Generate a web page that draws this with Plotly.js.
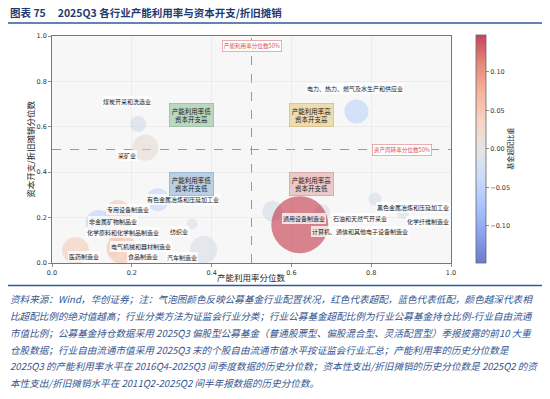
<!DOCTYPE html>
<html>
<head>
<meta charset="utf-8">
<script src="https://cdn.plot.ly/plotly-3.0.1.min.js"></script>
<style>html,body{margin:0;padding:0;background:#fff;}#chart{width:550px;height:399px;}</style>
</head>
<body>
<div id="chart"></div>
<script>
// ---- data ----
const industries = [
  "电力、热力、燃气及水生产和供应业","煤炭开采和洗选业","采矿业","有色金属冶炼和压延加工业",
  "专用设备制造业","非金属矿物制品业","化学原料和化学制品制造业","医药制造业",
  "电气机械和器材制造业","食品制造业","纺织业","汽车制造业",
  "通用设备制造业","石油和天然气开采业","黑色金属冶炼和压延加工业","化学纤维制造业",
  "计算机、通信和其他电子设备制造业"
];
const capUtilPct = [0.763,0.216,0.234,0.265,0.165,0.117,0.161,0.059,0.174,0.156,0.351,0.380,0.553,0.678,0.809,0.880,0.621];
const capexPct   = [0.667,0.612,0.508,0.279,0.220,0.176,0.147,0.055,0.064,0.046,0.172,0.059,0.228,0.226,0.282,0.220,0.169];
const overweight = [-0.040,-0.020,0.010,-0.035,0.040,-0.040,0.030,0.035,0.045,0.020,-0.005,-0.010,-0.015,-0.010,-0.010,-0.008,0.140];
const mktCapWeight = [2.13,0.95,2.50,1.95,2.50,2.50,2.10,2.70,3.30,0.25,0.45,2.70,1.60,0.83,0.62,0.53,12.0];
const xTicks = [0,0.2,0.4,0.6,0.8,1.0];
const cbTickVals = [-0.10,-0.05,0.00,0.05,0.10];
const cbTickText = ["−0.10","−0.05","0.00","0.05","0.10"];
const quadrants = [
  {text:"产能利用率低<br>资本开支高", x:0.35, y:0.65},
  {text:"产能利用率高<br>资本开支高", x:0.65, y:0.65},
  {text:"产能利用率低<br>资本开支低", x:0.35, y:0.35},
  {text:"产能利用率高<br>资本开支低", x:0.65, y:0.35}
];
const noteLines = [
  "资料来源：Wind，华创证券；注：气泡图颜色反映公募基金行业配置状况，红色代表超配，蓝色代表低配，颜色越深代表相",
  "比超配比例的绝对值越高；行业分类方法为证监会行业分类；行业公募基金超配比例为行业公募基金持仓比例-行业自由流通",
  "市值比例；公募基金持仓数据采用 2025Q3 偏股型公募基金（普通股票型、偏股混合型、灵活配置型）季报披露的前10 大重",
  "仓股数据；行业自由流通市值采用 2025Q3 末的个股自由流通市值水平按证监会行业汇总；产能利用率的历史分位数是",
  "2025Q3 的产能利用率水平在 2016Q4-2025Q3 间季度数据的历史分位数；资本性支出/折旧摊销的历史分位数是 2025Q2 的资",
  "本性支出/折旧摊销水平在 2011Q2-2025Q2 间半年报数据的历史分位数。"
];

// ---- layout helpers (pixel offsets of labels from their bubbles) ----
const labelShift = [
  [-1,23],[-11,23],[-18,-8],[25,0],
  [10,4],[14,2],[7,-3],[8,-6],
  [20,2],[29,-4],[-13,-8],[-22,-8],
  [31,-7],[37,-7],[38,-9],[25,-8],
  [60,-7]
];
const W=550,H=399,ML=52,MR=99,MT=36,MB=135.5;
const pw=W-ML-MR, ph=H-MT-MB;
const px2x = p => (p-ML)/pw;
const py2y = p => (H-MB-p)/ph;
const CJK = "Noto Sans CJK SC";

const a = 0.75;
const cs = [
  [0,`rgba(59,76,192,${a})`],[0.125,`rgba(98,130,234,${a})`],[0.25,`rgba(141,176,254,${a})`],
  [0.375,`rgba(184,208,249,${a})`],[0.5,`rgba(221,221,221,${a})`],[0.625,`rgba(245,196,173,${a})`],
  [0.75,`rgba(244,154,123,${a})`],[0.875,`rgba(222,96,77,${a})`],[1,`rgba(180,4,38,${a})`]
];
const maxD = 57;
const sizeref = 2*Math.max(...mktCapWeight)/(maxD*maxD);

const trace = {
  type:'scatter', mode:'markers',
  x:capUtilPct, y:capexPct, text:industries,
  marker:{
    size:mktCapWeight, sizemode:'area', sizeref:sizeref,
    color:overweight, colorscale:cs, cmin:-0.148, cmax:0.148,
    line:{width:0},
    showscale:true,
    colorbar:{
      x:px2x(476), xanchor:'left', xref:'paper',
      y:py2y(149), yanchor:'middle',
      thickness:10, thicknessmode:'pixels',
      len:228, lenmode:'pixels',
      outlinewidth:0.8, outlinecolor:'#666',
      xpad:0, ypad:0,
      tickmode:'array', tickvals:cbTickVals, ticktext:cbTickText,
      ticks:'outside', ticklen:3, tickwidth:0.6, tickcolor:'#444',
      tickfont:{family:'DejaVu Sans', size:6.5, color:'#333'}
    }
  },
  hoverinfo:'text'
};

const ann = [];
industries.forEach((name,i)=>{
  ann.push({
    x:capUtilPct[i], y:capexPct[i], xref:'x', yref:'y', xanchor:'center', yanchor:'middle',
    xshift:labelShift[i][0], yshift:labelShift[i][1],
    text:name, showarrow:false,
    font:{family:CJK, size:6, color:'#222'},
    bgcolor:'rgba(255,255,255,0.75)', borderpad:1, borderwidth:0
  });
});
const qStyle = [
  {bg:'#b8d8c2', bd:'#93bfa1'},
  {bg:'#eedcae', bd:'#d6bf82'},
  {bg:'#b9cfe3', bd:'#93b2cf'},
  {bg:'#ecc9c9', bd:'#d6a2a2'}
];
quadrants.forEach((q,i)=>{
  ann.push({x:q.x, y:q.y, xref:'x', yref:'y', xanchor:'center', yanchor:'middle', text:q.text, showarrow:false,
    font:{family:CJK, size:6.5, color:'#222'}, bgcolor:qStyle[i].bg, bordercolor:qStyle[i].bd,
    borderwidth:0.8, borderpad:2});
});
ann.push({x:0.5, y:0.955, xref:'x', yref:'y', xanchor:'center', yanchor:'middle', text:'产能利用率分位数50%', showarrow:false,
  font:{family:CJK, size:5.6, color:'#d9534f'}, bgcolor:'#ffffff', bordercolor:'#e69a9a', borderwidth:0.8, borderpad:1});
ann.push({x:0.877, y:0.5, xref:'x', yref:'y', xanchor:'center', yanchor:'middle', text:'资产周转率分位数50%', showarrow:false,
  font:{family:CJK, size:5.6, color:'#d9534f'}, bgcolor:'#ffffff', bordercolor:'#e69a9a', borderwidth:0.8, borderpad:1});
// axis titles
ann.push({x:px2x(251), y:py2y(278), xref:'paper', yref:'paper', xanchor:'center', yanchor:'middle', text:'产能利用率分位数', showarrow:false,
  font:{family:CJK, size:8.5, color:'#222'}});
ann.push({x:px2x(30), y:py2y(150), xref:'paper', yref:'paper', xanchor:'center', yanchor:'middle', text:'资本开支/折旧摊销分位数', showarrow:false,
  textangle:-90, font:{family:CJK, size:8.5, color:'#222'}});
ann.push({x:px2x(510), y:py2y(149), xref:'paper', yref:'paper', xanchor:'center', yanchor:'middle', text:'基金超配比重', showarrow:false,
  textangle:-90, font:{family:CJK, size:7, color:'#222'}});
// chart title
ann.push({x:px2x(8), y:py2y(12), xref:'paper', yref:'paper', xanchor:'left', yanchor:'middle',
  text:'<b>图表 75     2025Q3 各行业产能利用率与资本开支/折旧摊销</b>', showarrow:false,
  font:{family:CJK, size:10.5, color:'#1f3a6e'}});
// notes
noteLines.forEach((t,i)=>{
  ann.push({x:px2x(8), y:py2y(300+16.8*i), xref:'paper', yref:'paper', xanchor:'left', yanchor:'middle',
    text:t, showarrow:false, font:{family:CJK, size:9.6, color:'#35568f', style:'italic'}});
});

const shapes = [
  {type:'line', xref:'x', yref:'y', x0:0.5, x1:0.5, y0:0, y1:1, line:{color:'#e07b7b', width:1, dash:'dash'}, layer:'below'},
  {type:'line', xref:'x', yref:'y', x0:0, x1:1, y0:0.5, y1:0.5, line:{color:'#e07b7b', width:1, dash:'dash'}, layer:'below'},
  {type:'line', xref:'paper', yref:'paper', x0:px2x(8), x1:px2x(542), y0:py2y(23), y1:py2y(23), line:{color:'#2e5b9a', width:1.4}},
  {type:'line', xref:'paper', yref:'paper', x0:px2x(8), x1:px2x(542), y0:py2y(286), y1:py2y(286), line:{color:'#2e5b9a', width:1.4}}
];

const axisCommon = {
  range:[0,1], tickmode:'array', tickvals:xTicks, tickformat:'.1f',
  showgrid:true, gridcolor:'#e6e6e6', gridwidth:0.6, zeroline:false,
  showline:true, linecolor:'#555', linewidth:0.8, mirror:true,
  ticks:'outside', ticklen:3, tickwidth:0.6, tickcolor:'#444',
  tickfont:{family:'DejaVu Sans', size:6.5, color:'#333'}, fixedrange:true
};

const layout = {
  width:W, height:H,
  margin:{l:ML, r:MR, t:MT, b:MB, pad:0},
  paper_bgcolor:'#ffffff', plot_bgcolor:'#f7f7f7',
  showlegend:false,
  xaxis:Object.assign({}, axisCommon),
  yaxis:Object.assign({}, axisCommon),
  annotations:ann, shapes:shapes,
  font:{family:CJK}
};

Plotly.newPlot('chart',[trace],layout,{displayModeBar:false, staticPlot:true});
</script>
</body>
</html>
